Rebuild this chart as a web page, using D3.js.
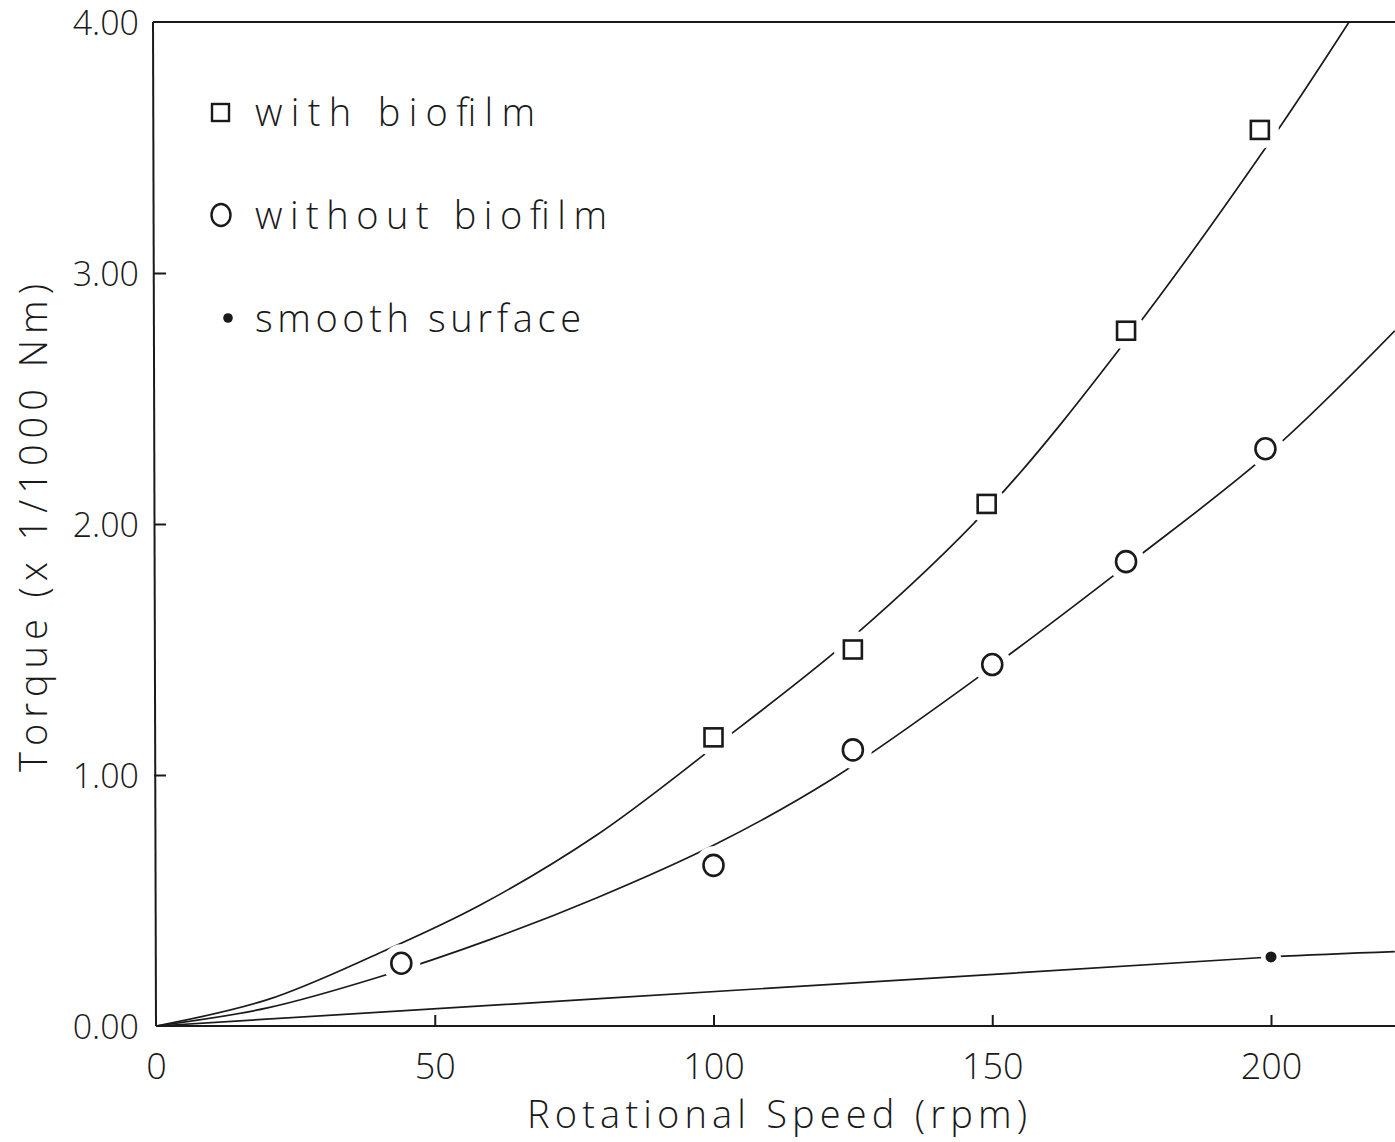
<!DOCTYPE html>
<html>
<head>
<meta charset="utf-8">
<script src="https://cdn.jsdelivr.net/npm/d3@7"></script>
<style>
  html, body { margin: 0; padding: 0; background: #fff; }
  svg { display: block; }
  text { font-family: "Open Sans", "DejaVu Sans", sans-serif; font-weight: 300; fill: #1a1a1a; }
</style>
</head>
<body>
<svg id="chart" width="1395" height="1142"></svg>
<script>
// ---- data ----
const xTickValues = [0, 50, 100, 150, 200];
const yTickValues = [0, 1, 2, 3, 4];
const yTickLabels = ["0.00", "1.00", "2.00", "3.00", "4.00"];

const withSpeed    = [100, 125, 149, 174, 198];
const withTorque   = [1.15, 1.50, 2.08, 2.77, 3.57];
const withoutSpeed = [44, 100, 125, 150, 174, 199];
const withoutTorque= [0.25, 0.64, 1.10, 1.44, 1.85, 2.30];
const smoothSpeed  = [200];
const smoothTorque = [0.275];

// fitted curves as traced on the picture
const withFitSpeed     = [0, 20, 40, 58, 79, 100, 125, 150, 175, 200, 214];
const withFitTorque    = [0, 0.105, 0.29, 0.48, 0.76, 1.11, 1.55, 2.08, 2.76, 3.53, 4.0];
const withoutFitSpeed  = [0, 20, 40, 60, 79, 100, 121, 150, 175, 200, 222.2];
const withoutFitTorque = [0, 0.072, 0.195, 0.345, 0.51, 0.72, 0.98, 1.43, 1.85, 2.29, 2.77];
const smoothFitSpeed   = [0, 151, 200, 222.2];
const smoothFitTorque  = [0, 0.207, 0.275, 0.296];

const legendLabels = ["with biofilm", "without biofilm", "smooth surface"];
const xTitle = "Rotational Speed (rpm)";
const yTitle = "Torque (x 1/1000 Nm)";

// ---- layout ----
const svg = d3.select("#chart");
const W = 1395, H = 1142;
const x = d3.scaleLinear().domain([0, 200]).range([156, 1271]);
const y = d3.scaleLinear().domain([0, 4]).range([1026, 22]);
const xRight = W;
const ink = "#1a1a1a";

svg.append("rect").attr("width", W).attr("height", H).attr("fill", "#fff");

svg.append("defs").append("clipPath").attr("id", "plot")
  .append("rect").attr("x", x(0)).attr("y", y(4)).attr("width", xRight - x(0)).attr("height", y(0) - y(4));

// x axis (ticks inward)
const xAxis = d3.axisBottom(x).tickValues(xTickValues).tickSize(-11).tickPadding(22)
  .tickFormat(d3.format("d"));
const gx = svg.append("g").attr("transform", `translate(0,${y(0)})`).call(xAxis);
gx.select(".domain").remove();
gx.selectAll(".tick line").attr("stroke", ink).attr("stroke-width", 2)
  .filter(d => d === 0).remove();
gx.selectAll(".tick text").attr("font-size", 36).attr("fill", ink)
  .attr("font-family", "'Open Sans', 'DejaVu Sans', sans-serif").attr("font-weight", 300)
  .attr("dy", "0.85em").attr("y", 22);

// y axis (ticks inward)
const yAxis = d3.axisLeft(y).tickValues(yTickValues).tickSize(-12).tickPadding(16)
  .tickFormat((d, i) => yTickLabels[i]);
const gy = svg.append("g").attr("transform", `translate(${x(0) - 2},0)`).call(yAxis);
gy.select(".domain").remove();
gy.selectAll(".tick line").attr("stroke", ink).attr("stroke-width", 2)
  .filter(d => d === 0 || d === 4).remove();
gy.selectAll(".tick text").attr("font-size", 34).attr("fill", ink)
  .attr("font-family", "'Open Sans', 'DejaVu Sans', sans-serif").attr("font-weight", 300)
  .attr("dy", "0.38em").attr("x", -15);

// curves
const line = d3.line().x(d => x(d[0])).y(d => y(d[1])).curve(d3.curveCatmullRom.alpha(0.5));
const curves = svg.append("g").attr("clip-path", "url(#plot)")
  .attr("fill", "none").attr("stroke", ink).attr("stroke-width", 1.7);
curves.append("path").attr("d", line(d3.zip(withFitSpeed, withFitTorque)));
curves.append("path").attr("d", line(d3.zip(withoutFitSpeed, withoutFitTorque)));
curves.append("path").attr("d", line(d3.zip(smoothFitSpeed, smoothFitTorque)));

// white knock-out gaps around markers (as in the plotter original)
const halo = svg.append("g").attr("fill", "#fff");
halo.selectAll("circle.hw").data(d3.zip(withSpeed, withTorque)).join("circle")
  .attr("class", "hw")
  .attr("cx", d => x(d[0])).attr("cy", d => y(d[1])).attr("r", 19);
halo.selectAll("circle.ho").data(d3.zip(withoutSpeed, withoutTorque)).join("circle")
  .attr("class", "ho")
  .attr("cx", d => x(d[0])).attr("cy", d => y(d[1])).attr("r", 19);
halo.selectAll("circle.hs").data(d3.zip(smoothSpeed, smoothTorque)).join("circle")
  .attr("class", "hs")
  .attr("cx", d => x(d[0])).attr("cy", d => y(d[1])).attr("r", 10);

// frame: left, bottom, top
const frame = svg.append("g").attr("stroke", ink).attr("stroke-width", 2).attr("fill", "none");
frame.append("line").attr("x1", x(0) - 3).attr("y1", y(4)).attr("x2", x(0)).attr("y2", y(0));
frame.append("line").attr("x1", x(0)).attr("y1", y(0)).attr("x2", xRight).attr("y2", y(0));
frame.append("line").attr("x1", x(0) - 3).attr("y1", y(4)).attr("x2", xRight).attr("y2", y(4));

// markers
const S = 18;
svg.append("g").selectAll("rect").data(d3.zip(withSpeed, withTorque)).join("rect")
  .attr("x", d => x(d[0]) - S / 2).attr("y", d => y(d[1]) - S / 2)
  .attr("width", S).attr("height", S)
  .attr("fill", "#fff").attr("stroke", ink).attr("stroke-width", 2.6);
svg.append("g").selectAll("ellipse").data(d3.zip(withoutSpeed, withoutTorque)).join("ellipse")
  .attr("cx", d => x(d[0])).attr("cy", d => y(d[1])).attr("rx", 10).attr("ry", 10.5)
  .attr("fill", "#fff").attr("stroke", ink).attr("stroke-width", 2.6);
svg.append("g").selectAll("circle").data(d3.zip(smoothSpeed, smoothTorque)).join("circle")
  .attr("cx", d => x(d[0])).attr("cy", d => y(d[1])).attr("r", 5.5).attr("fill", ink);

// legend
const leg = svg.append("g");
const legY = [112, 215, 318];
const legW = [280, 352, 326];
leg.append("rect").attr("x", 212).attr("y", legY[0] - 8).attr("width", 17).attr("height", 17)
  .attr("fill", "none").attr("stroke", ink).attr("stroke-width", 2.4);
leg.append("ellipse").attr("cx", 221).attr("cy", legY[1]).attr("rx", 9.5).attr("ry", 11)
  .attr("fill", "none").attr("stroke", ink).attr("stroke-width", 2.4);
leg.append("circle").attr("cx", 228).attr("cy", legY[2]).attr("r", 4.8).attr("fill", ink);
leg.selectAll("text").data(legendLabels).join("text")
  .attr("x", 255).attr("y", (d, i) => legY[i] + 14)
  .attr("font-size", 38)
  .attr("textLength", (d, i) => legW[i]).attr("lengthAdjust", "spacing")
  .text(d => d);

// axis titles
svg.append("text").attr("x", 527).attr("y", 1128).attr("font-size", 38)
  .attr("textLength", 500).attr("lengthAdjust", "spacing").text(xTitle);
svg.append("text").attr("transform", "translate(47,772) rotate(-90)").attr("font-size", 38)
  .attr("textLength", 488).attr("lengthAdjust", "spacing").text(yTitle);
</script>
</body>
</html>
